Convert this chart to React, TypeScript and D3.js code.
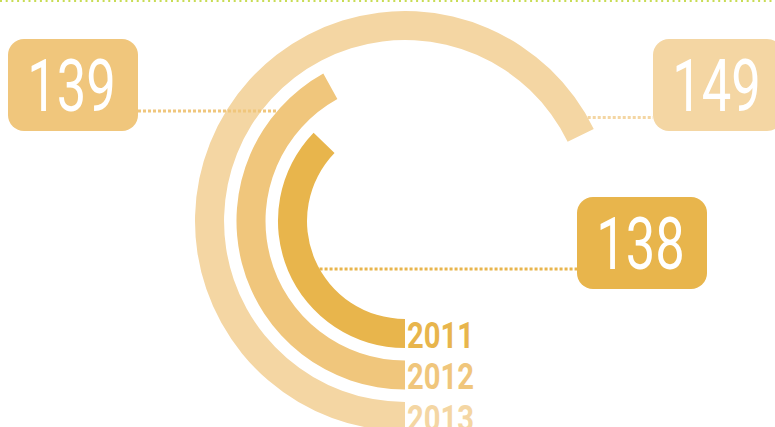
import React from 'react';
import * as d3 from 'd3';

const years = ['2011', '2012', '2013'];
const values = [138, 139, 149];
const colors = ['#e8b54c', '#f0c67c', '#f4d6a3'];
// sweep in degrees that the source chart gives each value
const sweepDomain = [138, 139, 149];
const sweepRange = [134, 151, 244];

const W = 775;
const H = 427;
const cx = 405;
const cy = 221;

export default function App() {
  const rScale = d3.scaleBand<string>().domain(years).range([98, 210]).paddingInner(0.3).paddingOuter(0);
  const angle = d3.scaleLinear().domain(sweepDomain).range(sweepRange);
  const toRad = (deg: number) => (deg * Math.PI) / 180;
  const arcGen = d3.arc<any>();

  // label boxes (layout)
  const boxes = [
    { x: 577, y: 197, lineY: 269, side: 'right', edge: 'inner' },
    { x: 8, y: 39, lineY: 111, side: 'left', edge: 'outer' },
    { x: 653, y: 39, lineY: 117.5, side: 'right', edge: 'outer' },
  ];
  const boxW = 130;
  const boxH = 92;

  return (
    <svg width={W} height={H} style={{ position: 'absolute', left: 0, top: 0 }}>
      <line x1={0} x2={W} y1={1} y2={1} stroke="#c8dc55" strokeWidth={2} strokeDasharray="2,3.7" />
      <g transform={`translate(${cx},${cy})`}>
        {years.map((y, i) => {
          const r0 = rScale(y)!;
          const r1 = r0 + rScale.bandwidth();
          const d = arcGen({
            innerRadius: r0,
            outerRadius: r1,
            startAngle: Math.PI,
            endAngle: Math.PI + toRad(angle(values[i])),
          });
          return <path key={y} d={d || ''} fill={colors[i]} />;
        })}
      </g>
      {years.map((y, i) => {
        const b = boxes[i];
        const r0 = rScale(y)!;
        const r = b.edge === 'inner' ? r0 : r0 + rScale.bandwidth();
        const dy = b.lineY - cy;
        const dx = Math.sqrt(Math.max(0, r * r - dy * dy));
        const arcX = b.side === 'right' ? cx + (b.edge === 'inner' ? -dx : dx) : cx - dx;
        const x1 = b.side === 'right' ? arcX : b.x + boxW;
        const x2 = b.side === 'right' ? b.x : arcX;
        return (
          <line key={'l' + y} x1={x1} x2={x2} y1={b.lineY} y2={b.lineY} stroke={colors[i]} strokeWidth={3} strokeDasharray="3,2" />
        );
      })}
      {years.map((y, i) => {
        const b = boxes[i];
        const tx = b.x + boxW / 2 - 1.5;
        const ty = b.y + 72;
        return (
          <g key={'b' + y}>
            <rect x={b.x} y={b.y} width={boxW} height={boxH} rx={16} ry={16} fill={colors[i]} />
            <text
              transform={`translate(${tx},${ty}) scale(0.72,1)`}
              textAnchor="middle"
              fill="#ffffff"
              fontFamily="Roboto, sans-serif"
              fontWeight={400}
              fontSize={73}
            >
              {values[i]}
            </text>
          </g>
        );
      })}
      {years.map((y, i) => {
        const r1 = rScale(y)! + rScale.bandwidth();
        return (
          <text
            key={'y' + y}
            transform={`translate(${cx + 2},${cy + r1 - 0.5}) scale(0.8,1)`}
            fill={colors[i]}
            fontFamily="Roboto, sans-serif"
            fontWeight={700}
            fontSize={36.5}
          >
            {y}
          </text>
        );
      })}
    </svg>
  );
}
